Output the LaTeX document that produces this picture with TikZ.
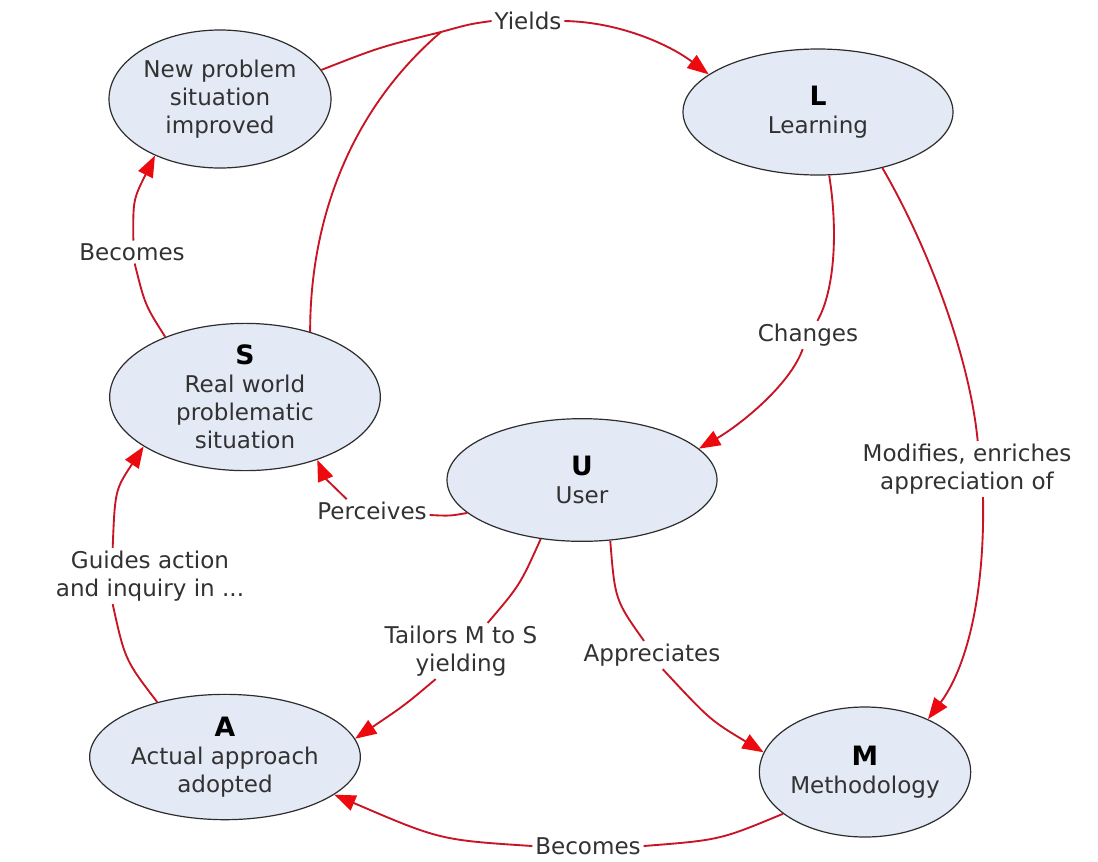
\documentclass[tikz,border=0pt]{standalone}
\usepackage{fontspec}
\setmainfont{DejaVu Sans}
\usetikzlibrary{shapes.geometric,arrows.meta}
\definecolor{nodefill}{RGB}{228,234,245}
\definecolor{nodeedge}{RGB}{45,45,45}
\definecolor{linkred}{RGB}{200,20,36}
\definecolor{tipred}{RGB}{236,10,14}
\definecolor{txt}{RGB}{50,50,50}
\newcommand\keyletter[1]{{\fontsize{20}{21}\selectfont\bfseries\color{black}#1}}

\begin{document}
\begin{tikzpicture}[x=0.75pt,y=-0.75pt,
  concept/.style={ellipse, draw=nodeedge, line width=0.9pt, fill=nodefill,
    inner sep=0pt, align=center, text=txt, font=\fontsize{17.3}{21}\selectfont},
  phrase/.style={inner sep=2pt, align=center, text=txt,
    font=\fontsize{17.3}{21}\selectfont},
  link/.style={draw=linkred, line width=1.4pt},
  arrowlink/.style={link, -{Triangle[length=16pt,width=12pt,color=tipred]}}]

\useasboundingbox[fill=white] (0,0) rectangle (1098,861);

% concepts
\node[concept, minimum width=166.5pt, minimum height=103.5pt] (N) at (220,99)
  {New problem\\situation\\improved};
\node[concept, minimum width=202.5pt, minimum height=94.5pt] (L) at (818,112)
  {\keyletter{L}\\Learning};
\node[concept, minimum width=203pt, minimum height=92pt] (S) at (245,397)
  {\keyletter{S}\\Real world\\problematic\\situation};
\node[concept, minimum width=202.5pt, minimum height=92pt] (U) at (582,480)
  {\keyletter{U}\\User};
\node[concept, minimum width=203pt, minimum height=94pt] (A) at (225,757)
  {\keyletter{A}\\Actual approach\\adopted};
\node[concept, minimum width=153pt, minimum height=97.5pt] (M) at (865,772)
  {\keyletter{M}\\Methodology};

% linking phrases
\node[phrase] (Y)  at (528,21)  {Yields};
\node[phrase] (Bt) at (132,252) {Becomes};
\node[phrase] (Ch) at (808,335) {Changes};
\node[phrase] (Pe) at (372,511) {Perceives};
\node[phrase] (G)  at (150,576) {Guides action\\and inquiry in ...};
\node[phrase] (T)  at (461,651) {Tailors M to S\\yielding};
\node[phrase] (Ap) at (652,655) {Appreciates};
\node[phrase] (Mo) at (967,469) {Modifies, enriches\\appreciation of};
\node[phrase] (Bb) at (588,846) {Becomes};

\coordinate (J) at (441,32);

% S and N yield L
\draw[link] (S.45) .. controls (310,220) and (350,110) .. (J);
\draw[link] (N.16) .. controls (380,47) .. (J);
\draw[link] (J) .. controls (470,24) .. (Y.west);
\draw[arrowlink] (Y.east) .. controls (620,22) and (670,45) .. (L.161);

% S becomes N
\draw[link] (S.143) .. controls (145,305) .. ([xshift=2pt]Bt.south);
\draw[arrowlink] ([xshift=1pt]Bt.north) .. controls (133,200) .. (N.221);

% L changes U
\draw[link] (L.280) .. controls (838,230) and (835,290) .. ([xshift=7pt]Ch.north);
\draw[arrowlink] ([xshift=-4pt]Ch.south) .. controls (790,385) and (740,425) .. (U.15);

% L modifies M
\draw[link] (L.319) .. controls (930,250) and (970,360) .. ([xshift=8pt]Mo.north);
\draw[arrowlink] ([xshift=12pt]Mo.south) .. controls (985,600) and (965,670) .. (M.40);

% U perceives S
\draw[link] (U.196) .. controls (450,516) .. ([yshift=-3pt]Pe.east);
\draw[arrowlink] ([xshift=-19pt]Pe.north) .. controls (325,478) .. (S.319);

% A guides S
\draw[link] (A.141) .. controls (125,660) .. ([xshift=-28pt]G.south);
\draw[arrowlink] ([xshift=-28pt]G.north) .. controls (115,490) .. (S.206);

% U tailors, yielding A
\draw[link] (U.235) .. controls (520,585) .. ([xshift=20pt]T.north);
\draw[arrowlink] ([xshift=-19pt]T.south) .. controls (405,705) .. (A.8);

% U appreciates M
\draw[link] (U.295) .. controls (615,600) .. ([xshift=-6pt]Ap.north);
\draw[arrowlink] ([xshift=8pt]Ap.south) .. controls (710,720) .. (M.169);

% M becomes A
\draw[link] (M.207) .. controls (720,840) .. (Bb.east);
\draw[arrowlink] (Bb.west) .. controls (440,840) .. (A.341);

\end{tikzpicture}
\end{document}
